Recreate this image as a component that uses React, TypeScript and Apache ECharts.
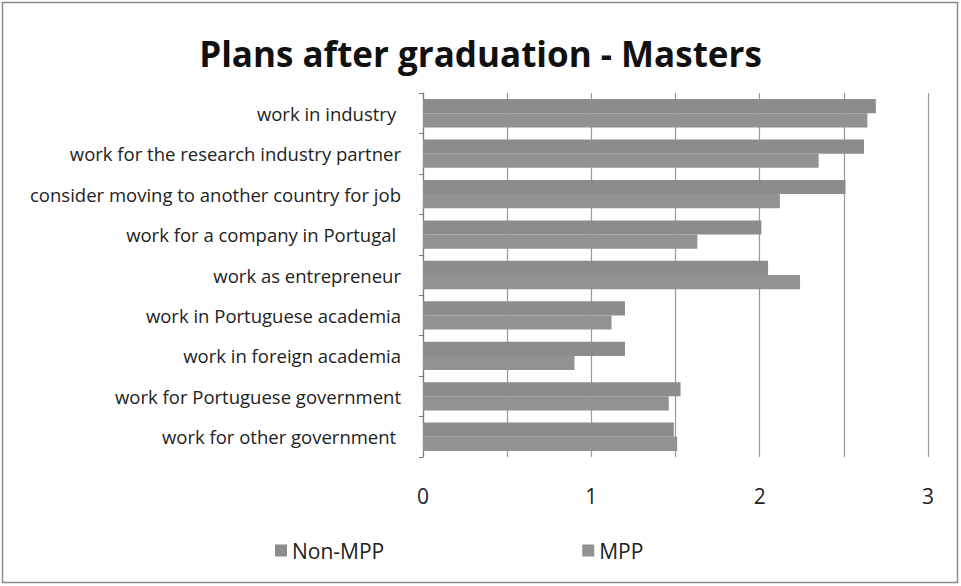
import React, { useEffect, useRef } from "react";
import * as echarts from "echarts";

const categories = [
  "work in industry ",
  "work for the research industry partner",
  "consider moving to another country for job",
  "work for a company in Portugal ",
  "work as entrepreneur",
  "work in Portuguese academia",
  "work in foreign academia",
  "work for Portuguese government",
  "work for other government ",
];
const nonMpp = [2.69, 2.62, 2.51, 2.01, 2.05, 1.2, 1.2, 1.53, 1.49];
const mpp = [2.64, 2.35, 2.12, 1.63, 2.24, 1.12, 0.9, 1.46, 1.51];
const xTicks = [0, 1, 2, 3];

export default function App() {
  const ref = useRef<HTMLDivElement>(null);
  useEffect(() => {
    document.body.style.margin = "0";
    const chart = echarts.init(ref.current!, null, { renderer: "svg" });
    const font = "'Open Sans', 'Liberation Sans', sans-serif";
    chart.setOption({
      animation: false,
      backgroundColor: "#fff",
      textStyle: { fontFamily: font },
      title: {
        text: "Plans after graduation - Masters",
        left: "center",
        top: 31,
        textStyle: { fontFamily: font, fontSize: 35, fontWeight: "bold", color: "#111" },
      },
      graphic: [
        {
          type: "rect",
          shape: { x: 2.5, y: 2.5, width: 955, height: 580 },
          style: { fill: "none", stroke: "#8a8a8a", lineWidth: 1.5 },
          silent: true,
        },
      ],
      legend: {
        left: 270,
        top: 535,
        itemGap: 198,
        itemWidth: 12,
        itemHeight: 12,
        icon: "rect",
        textStyle: { fontFamily: font, fontSize: 21, color: "#222" },
        data: ["Non-MPP", "MPP"],
      },
      grid: { left: 423, right: 33, top: 93, height: 364, containLabel: false },
      xAxis: {
        type: "value",
        min: 0,
        max: 3,
        interval: 0.5,
        axisLine: { show: false },
        axisTick: { show: false },
        splitLine: { show: true, lineStyle: { color: "#9a9a9a", width: 1.2 } },
        axisLabel: {
          margin: 28,
          fontSize: 21,
          color: "#222",
          fontFamily: font,
          formatter: (v: number) => (xTicks.includes(v) ? String(v) : ""),
        },
      },
      yAxis: {
        type: "category",
        inverse: true,
        data: categories,
        axisLine: { show: true, lineStyle: { color: "#7a7a7a", width: 1.2 } },
        axisTick: { show: true, length: 4, lineStyle: { color: "#7a7a7a" } },
        axisLabel: { margin: 22, fontSize: 18.5, color: "#222", fontFamily: font },
      },
      series: [
        {
          name: "Non-MPP",
          type: "bar",
          data: nonMpp,
          barGap: "0%",
          barCategoryGap: "30%",
          itemStyle: { color: "#8c8c8c" },
        },
        {
          name: "MPP",
          type: "bar",
          data: mpp,
          barGap: "0%",
          barCategoryGap: "30%",
          itemStyle: { color: "#929292" },
        },
      ],
    });
    return () => chart.dispose();
  }, []);
  return <div ref={ref} style={{ width: 961, height: 586, position: "absolute", left: 0, top: 0 }} />;
}
